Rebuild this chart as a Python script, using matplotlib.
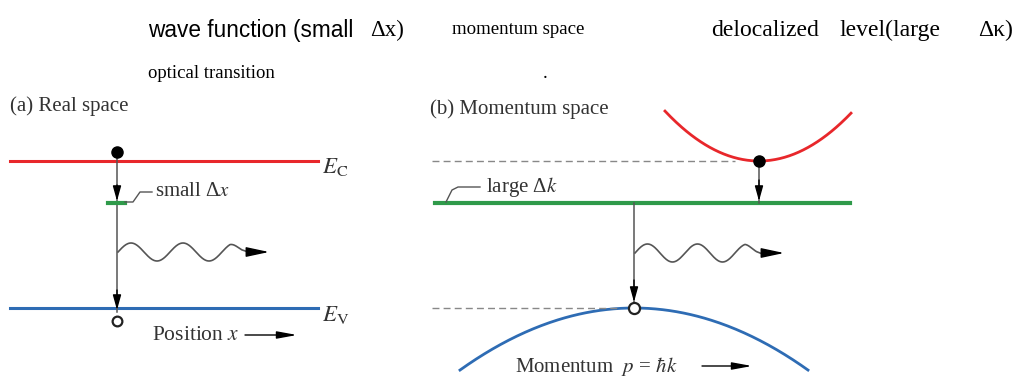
import numpy as np
import matplotlib.pyplot as plt

plt.rcParams["mathtext.fontset"] = "stix"

# pixel-space layout (y grows downward)
W, H = 1018, 378

# band levels, panel (a)
a_x = [10, 318]
ec_y = 161
ev_y = 308
trap_y = 203
a_xpos = 117

# panel (b) bands
b_cb_min = (759, 161)
b_cb_curv = 0.00565
b_cb_x = [665, 851]
b_trap_y = 203
b_trap_x = [435, 850]
b_vb_max = (634, 308)
b_vb_curv = 0.00205
b_vb_x = [460, 808]

RED = "#e8272b"
GREEN = "#2f9a4a"
BLUE = "#2e6cb4"
GRAY = "#555555"
TXT = "#333333"

fig = plt.figure(figsize=(W / 100, H / 100), dpi=100)
ax = fig.add_axes([0, 0, 1, 1])
ax.set_xlim(0, W)
ax.set_ylim(H, 0)
ax.axis("off")

serif = "Liberation Serif"
sans = "Liberation Sans"

# header text
ax.text(148, 30, "wave function (small", family=sans, fontsize=16.3, va="center")
ax.text(370, 30, "Δx)", family=serif, fontsize=16.5, va="center")
ax.text(452, 30, "momentum space", family=serif, fontsize=13.6, va="center")
for word, x in [("delocalized", 711), ("level(large", 839), ("Δκ)", 978)]:
    ax.text(x, 30, word, family=serif, fontsize=17, va="center")
ax.text(148, 73, "optical transition", family=serif, fontsize=13.5, va="center")
ax.text(543, 73, ".", family=serif, fontsize=14, va="center")


def arrow(x0, y0, x1, y1, hw=0.25, hl=0.9):
    ax.annotate("", xy=(x1, y1), xytext=(x0, y0),
                arrowprops=dict(arrowstyle=f"-|>,head_width={hw},head_length={hl}",
                                color="black", lw=1.0, shrinkA=0, shrinkB=0))


def photon(x0, yc, length, period=52, amp=9):
    xs = np.linspace(x0, x0 + length, 300)
    env = np.clip((x0 + length - xs) / 18, 0.35, 1)
    ys = yc - amp * env * np.sin(2 * np.pi * (xs - x0) / period)
    ax.plot(xs, ys, color=GRAY, lw=1.2)
    arrow(x0 + length, yc, x0 + length + 21, yc, hw=0.3, hl=1.4)


# ---- (a) real space ----
ax.text(10, 106, "(a) Real space", family=serif, fontsize=15, va="center", color=TXT)
ax.plot(a_x, [ec_y, ec_y], color=RED, lw=2.2)
ax.plot(a_x, [ev_y, ev_y], color=BLUE, lw=2.2)
ax.text(322, ec_y + 6, "$E_\\mathrm{C}$", fontsize=16.5, va="center", color=TXT)
ax.text(322, ev_y + 6, "$E_\\mathrm{V}$", fontsize=16.5, va="center", color=TXT)

ax.plot([a_xpos, a_xpos], [ec_y - 8, ev_y + 4], color=GRAY, lw=1.1)
arrow(a_xpos, 185, a_xpos, trap_y - 2)
arrow(a_xpos, 290, a_xpos, ev_y + 2)
ax.plot([a_xpos - 9, a_xpos + 8], [trap_y, trap_y], color=GREEN, lw=3)
ax.plot([a_xpos + 8, 133, 140, 152], [trap_y - 1, trap_y - 1, 192, 192], color=GRAY, lw=1)
ax.text(155, 191, "small Δ$x$", family=serif, fontsize=15, va="center", color=TXT)
ax.plot(a_xpos, ec_y - 9, "o", color="black", ms=8)
ax.plot(a_xpos, ev_y + 13, "o", mfc="white", mec="#222222", mew=1.6, ms=7)
photon(a_xpos + 1, 252, 130)
ax.text(152, 335, "Position $x$", family=serif, fontsize=15.5, va="center", color=TXT)
arrow(245, 335, 297, 335, hw=0.22, hl=1.2)

# ---- (b) momentum space ----
ax.text(430, 109, "(b) Momentum space", family=serif, fontsize=15, va="center", color=TXT)
xc = np.linspace(*b_cb_x, 200)
ax.plot(xc, b_cb_min[1] - b_cb_curv * (xc - b_cb_min[0]) ** 2, color=RED, lw=2)
xv = np.linspace(*b_vb_x, 300)
ax.plot(xv, b_vb_max[1] + b_vb_curv * (xv - b_vb_max[0]) ** 2, color=BLUE, lw=2)
ax.plot(b_trap_x, [b_trap_y, b_trap_y], color=GREEN, lw=3)

ax.plot([432, 735], [b_cb_min[1]] * 2, ls=(0, (5, 3)), color="#888888", lw=1)
ax.plot([432, 620], [b_vb_max[1]] * 2, ls=(0, (5, 3)), color="#888888", lw=1)

ax.plot([b_cb_min[0]] * 2, [b_cb_min[1], b_trap_y], color=GRAY, lw=1.1)
arrow(b_cb_min[0], 180, b_cb_min[0], b_trap_y - 2)
ax.plot(*b_cb_min, "o", color="black", ms=8)

ax.plot([b_vb_max[0]] * 2, [b_trap_y, b_vb_max[1]], color=GRAY, lw=1.1)
arrow(b_vb_max[0], 280, b_vb_max[0], b_vb_max[1] - 6)
ax.plot(b_vb_max[0], b_vb_max[1], "o", mfc="white", mec="#222222", mew=1.6, ms=8)
photon(b_vb_max[0] + 1, 253, 128, period=50)

ax.plot([446, 452, 458, 480], [b_trap_y - 1, 190, 187, 187], color=GRAY, lw=1)
ax.text(486, 187, "large Δ$k$", family=serif, fontsize=15, va="center", color=TXT)
ax.text(515, 366, "Momentum  $p$ = $\\hbar k$", family=serif, fontsize=15, va="center", color=TXT)
arrow(702, 366, 752, 366, hw=0.22, hl=1.2)

fig.savefig("out.png", dpi=100)
